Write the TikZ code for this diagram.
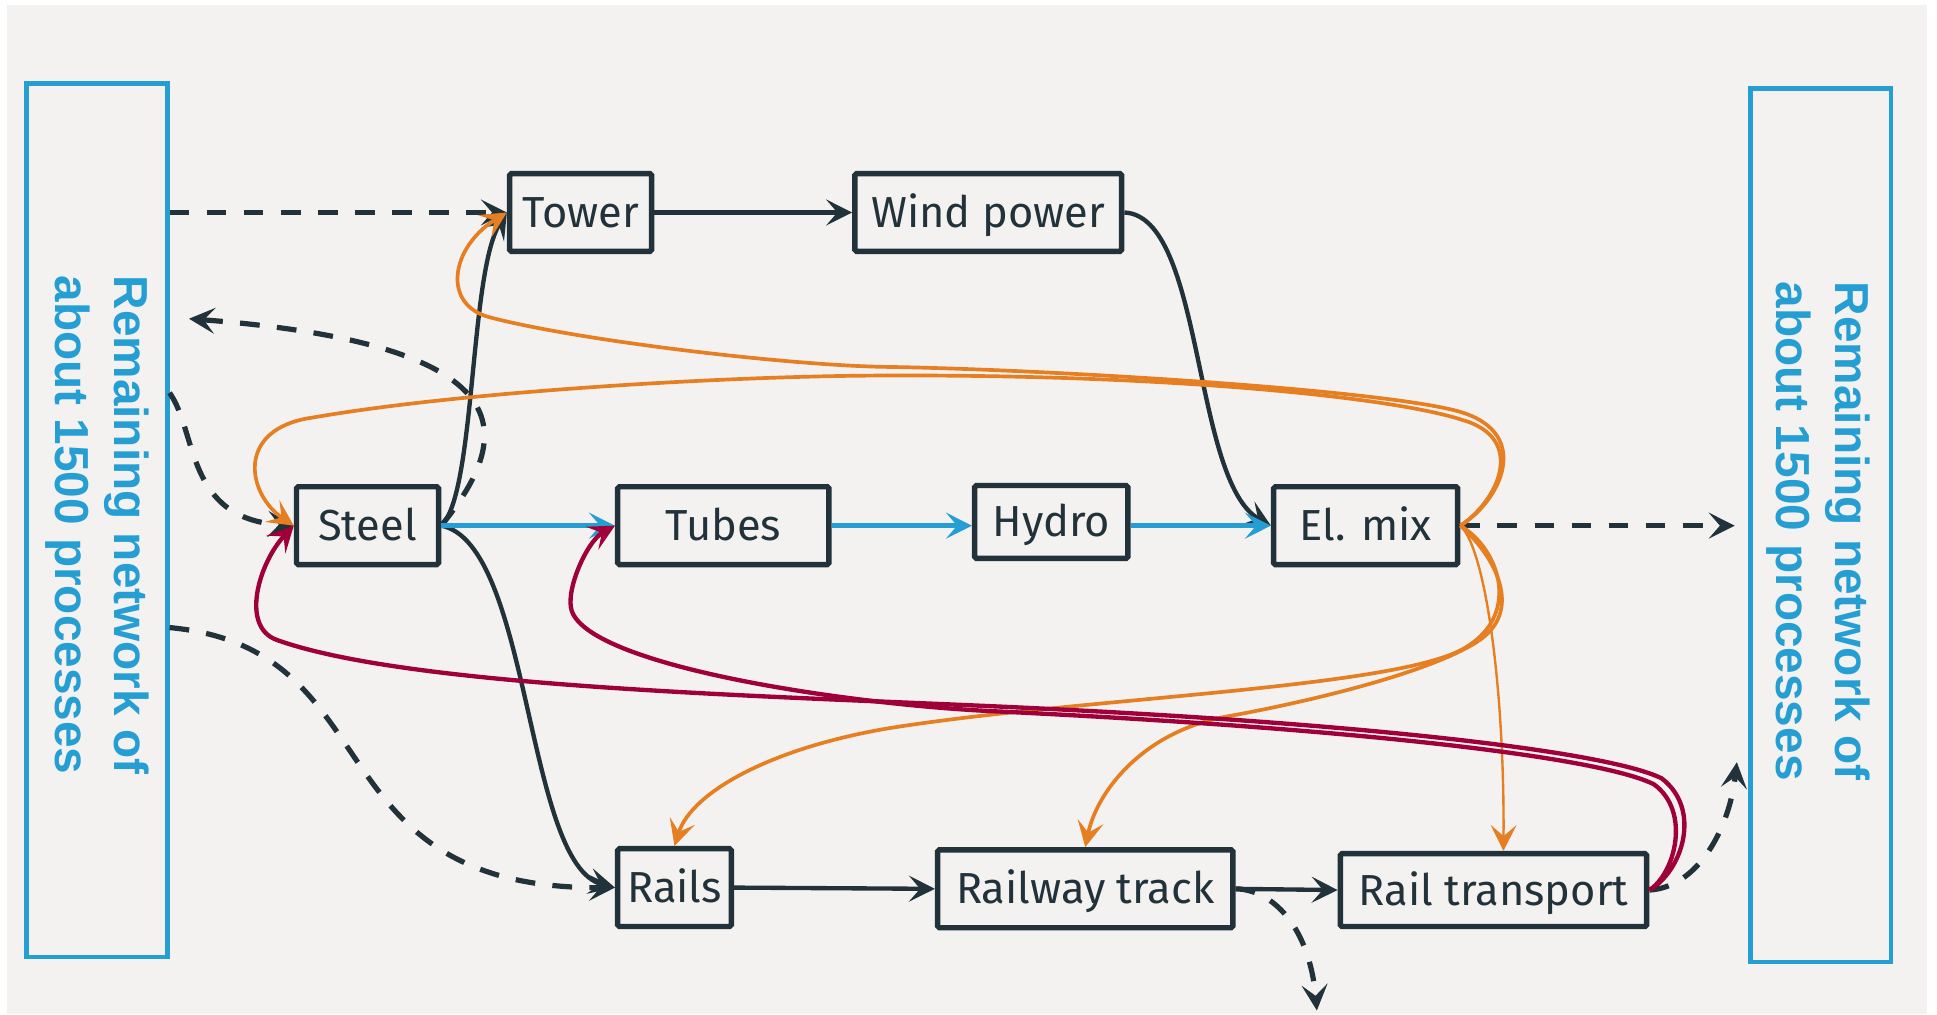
\documentclass[tikz,border=0pt]{standalone}
\usepackage{fontspec}
\setmainfont{Fira Sans}
\newfontfamily\netfont{Liberation Sans}
\usetikzlibrary{arrows.meta}

\definecolor{ink}{HTML}{22323A}
\definecolor{netblue}{HTML}{259FD3}
\definecolor{elorange}{HTML}{E67E22}
\definecolor{railred}{HTML}{A0003A}
\definecolor{paper}{HTML}{F4F2F0}

\tikzset{
  proc/.style={draw=ink, line width=1.25pt, rounded corners=0.4pt, minimum height=6.3mm,
    inner sep=0pt, text=ink, text height=6.9pt, text depth=0pt, font=\fontsize{10}{12}\selectfont},
  net/.style={draw=netblue, line width=1pt, minimum width=11.4mm, minimum height=70.7mm},
  nettext/.style={rotate=-90, align=center, text=netblue, inner sep=0pt,
    font=\netfont\bfseries\fontsize{11}{13.6}\selectfont},
  flow/.style={ink, line width=1pt, -{Stealth[length=2.1mm, width=2.1mm, inset=0.9mm]}},
  ext/.style={flow, line width=1.2pt, dash pattern=on 1.6mm off 1.4mm},
  hflow/.style={flow, netblue},
  oflow/.style={flow, elorange, line width=0.85pt},
  rflow/.style={flow, railred},
}

\begin{document}
\begin{tikzpicture}[x=0.1mm, y=-0.1mm]

\fill[white] (0,0) rectangle (1568,821);
\fill[paper] (6,4) rectangle (1560,821);
\useasboundingbox (0,0) rectangle (1568,821);

\node at (78.5,421) [net] (lnet) {};
\node at (1474,425) [net] (rnet) {};
\node at (79,425) [nettext] (ltext) {Remaining network of\\about 1500 processes};
\node at (1472,430) [nettext] (rtext) {Remaining network of\\about 1500 processes};

\node at (470,172) [proc, minimum width=11.5mm] (tower) {Tower};
\node at (800,172) [proc, minimum width=21.6mm] (wind) {Wind power};

\node at (297.5,425.5) [proc, minimum width=11.5mm] (steel) {Steel};
\node at (585.5,425.5) [proc, minimum width=17.1mm] (tubes) {Tubes};
\node at (851,422.5) [proc, minimum width=12.4mm, minimum height=5.9mm] (hydro) {Hydro};
\node at (1105.5,425.5) [proc, minimum width=14.9mm] (elmix) {El. mix};

\node at (546,718.5) [proc, minimum width=9.2mm] (rails) {Rails};
\node at (878.5,719.5) [proc, minimum width=23.9mm] (track) {Railway track};
\node at (1209,720.5) [proc, minimum width=24.8mm, minimum height=5.9mm] (transport) {Rail transport};

\coordinate (lout) at (153,258);
\coordinate (rin) at (1406,617);
\coordinate (trackout) at (1066,818);

\draw[flow] (tower.east) -- (wind.west);
\draw[flow] (wind.east) .. controls (975,175) and (965,390) .. (elmix.west);
\draw[flow] (steel.east) .. controls (385,400) and (380,220) .. (tower.west);
\draw[flow] (steel.east) .. controls (430,440) and (425,700) .. (rails.west);
\draw[flow] (rails.east) -- (track.west);
\draw[flow] (track.east) -- (transport.west);

\draw[ext] (lnet.east |- tower.west) -- (tower.west);
\draw[ext] (steel.east) .. controls (410,360) and (440,280) .. (lout);
\draw[ext] (lnet.east |- 0,318) .. controls (160,350) and (150,420) .. (steel.west);
\draw[ext] (lnet.east |- 0,508) .. controls (320,525) and (250,720) .. (rails.west);
\draw[ext, shorten >=1.1mm] (elmix.east) -- (rnet.west |- elmix.east);
\draw[ext] (transport.east) .. controls (1375,718) and (1400,670) .. (rin);
\draw[ext] (track.east) .. controls (1030,720) and (1060,750) .. (trackout);

\draw[hflow] (steel.east) -- (tubes.west);
\draw[hflow] (tubes.east) -- (tubes.east -| hydro.west);
\draw[hflow] (hydro.east |- elmix.west) -- (elmix.west);

\draw[oflow] (elmix.east) .. controls (1215,405) and (1240,352) .. (1184,334)
  .. controls (1128,316) and (850,299) .. (718,297)
  .. controls (640,296) and (470,276) .. (397,257)
  .. controls (357,247) and (365,200) .. (tower.west);
\draw[oflow] (elmix.east) .. controls (1213,405) and (1236,355) .. (1184,340)
  .. controls (1130,322) and (950,303) .. (718,304)
  .. controls (600,304) and (380,316) .. (253,338)
  .. controls (190,347) and (200,400) .. (steel.west);
\draw[oflow] (elmix.east) .. controls (1215,445) and (1232,500) .. (1183,526)
  .. controls (1124,557) and (880,565) .. (729,588)
  .. controls (629,603) and (560,640) .. (rails.north);
\draw[oflow] (elmix.east) .. controls (1210,450) and (1235,495) .. (1195,520)
  .. controls (1155,545) and (1060,568) .. (993,580)
  .. controls (926,592) and (888,640) .. (track.north);
\draw[oflow, line width=0.55pt] (elmix.east) .. controls (1203,445) and (1218,560) .. ([xshift=0.8mm]transport.north);

\draw[rflow] (transport.east) .. controls (1362,705) and (1378,655) .. (1345,630)
  .. controls (1300,608) and (1100,585) .. (810,572)
  .. controls (610,563) and (330,556) .. (224,518)
  .. controls (194,507) and (210,455) .. (steel.west);
\draw[rflow] (transport.east) .. controls (1356,707) and (1369,657) .. (1339,635)
  .. controls (1296,613) and (1100,590) .. (810,576)
  .. controls (690,571) and (480,540) .. (463,495)
  .. controls (457,479) and (475,438) .. (tubes.west);

\end{tikzpicture}
\end{document}
